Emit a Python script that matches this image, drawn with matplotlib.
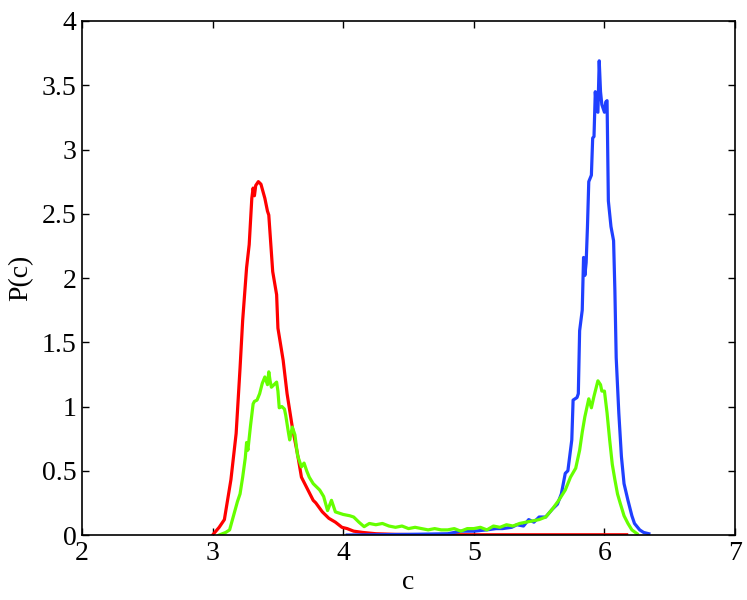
import matplotlib
matplotlib.use("Agg")
import matplotlib.pyplot as plt

red_x = [3.00, 3.05, 3.09, 3.14, 3.18, 3.21, 3.23, 3.26, 3.28, 3.30, 3.31, 3.32, 3.33, 3.35,
         3.37, 3.40, 3.42, 3.43, 3.46, 3.49, 3.50, 3.54, 3.57, 3.61, 3.65, 3.68, 3.73, 3.77,
         3.79, 3.84, 3.89, 3.94, 3.99, 4.03, 4.08, 4.15, 4.25, 4.40, 4.60, 5.00, 5.50, 6.00, 6.17]
red_y = [0.00, 0.06, 0.12, 0.43, 0.79, 1.30, 1.67, 2.08, 2.26, 2.62, 2.70, 2.64, 2.72, 2.75,
         2.73, 2.62, 2.52, 2.49, 2.05, 1.87, 1.61, 1.36, 1.10, 0.84, 0.63, 0.45, 0.35, 0.27,
         0.25, 0.18, 0.13, 0.10, 0.06, 0.05, 0.03, 0.02, 0.01, 0.005, 0.003, 0.002, 0.002, 0.002, 0.002]

green_x = [3.05, 3.10, 3.13, 3.16, 3.19, 3.21, 3.23, 3.25, 3.26, 3.27, 3.29, 3.31, 3.32, 3.34,
           3.36, 3.38, 3.40, 3.42, 3.43, 3.44, 3.45, 3.47, 3.49, 3.50, 3.51, 3.53, 3.55, 3.56,
           3.58, 3.59, 3.61, 3.63, 3.65, 3.68, 3.70, 3.72, 3.74, 3.77, 3.79, 3.82, 3.85, 3.88,
           3.91, 3.94, 3.97, 4.00, 4.05, 4.08, 4.12, 4.16, 4.20, 4.25, 4.30, 4.35, 4.40, 4.45,
           4.50, 4.55, 4.60, 4.65, 4.70, 4.75, 4.80, 4.85, 4.90, 4.95, 5.00, 5.05, 5.10, 5.15,
           5.20, 5.25, 5.30, 5.35, 5.40, 5.45, 5.50, 5.55, 5.60, 5.65, 5.70, 5.74, 5.78, 5.81,
           5.83, 5.85, 5.88, 5.90, 5.92, 5.95, 5.97, 5.98, 6.00, 6.02, 6.04, 6.06, 6.08, 6.10,
           6.12, 6.15, 6.18, 6.21, 6.25]
green_y = [0.00, 0.02, 0.04, 0.15, 0.26, 0.32, 0.45, 0.60, 0.72, 0.66, 0.85, 1.02, 1.04, 1.05,
           1.10, 1.18, 1.23, 1.17, 1.27, 1.20, 1.15, 1.17, 1.19, 1.12, 0.99, 1.00, 0.98, 0.93,
           0.80, 0.74, 0.84, 0.78, 0.62, 0.53, 0.56, 0.50, 0.45, 0.40, 0.38, 0.35, 0.30, 0.19,
           0.27, 0.18, 0.17, 0.16, 0.15, 0.14, 0.10, 0.065, 0.09, 0.08, 0.09, 0.07, 0.06, 0.07,
           0.05, 0.06, 0.05, 0.04, 0.05, 0.04, 0.04, 0.05, 0.03, 0.05, 0.05, 0.06, 0.04, 0.07,
           0.06, 0.08, 0.07, 0.09, 0.10, 0.11, 0.12, 0.14, 0.20, 0.27, 0.35, 0.45, 0.52, 0.66,
           0.80, 0.92, 1.06, 0.99, 1.08, 1.20, 1.17, 1.12, 1.12, 0.95, 0.74, 0.55, 0.43, 0.32,
           0.25, 0.15, 0.09, 0.04, 0.01]

blue_x = [4.03, 4.50, 4.80, 4.90, 5.00, 5.10, 5.17, 5.22, 5.29, 5.33, 5.38, 5.42, 5.46, 5.50,
          5.55, 5.60, 5.64, 5.67, 5.70, 5.72, 5.75, 5.76, 5.79, 5.80, 5.81, 5.83, 5.84, 5.85,
          5.86, 5.87, 5.88, 5.90, 5.91, 5.92, 5.93, 5.94, 5.95, 5.96, 5.97, 5.98, 6.00, 6.01,
          6.02, 6.03, 6.05, 6.07, 6.08, 6.09, 6.11, 6.13, 6.15, 6.18, 6.21, 6.23, 6.27, 6.30, 6.34]
blue_y = [0.00, 0.005, 0.01, 0.03, 0.03, 0.04, 0.05, 0.05, 0.06, 0.08, 0.07, 0.12, 0.10, 0.14,
          0.14, 0.20, 0.24, 0.32, 0.48, 0.50, 0.74, 1.05, 1.07, 1.10, 1.59, 1.75, 2.16, 2.02,
          2.12, 2.40, 2.75, 2.80, 3.09, 3.10, 3.45, 3.30, 3.29, 3.69, 3.45, 3.35, 3.29, 3.37,
          3.38, 2.60, 2.40, 2.29, 1.90, 1.38, 0.95, 0.61, 0.40, 0.27, 0.15, 0.09, 0.04, 0.02, 0.01]

x_ticks = [2, 3, 4, 5, 6, 7]
y_ticks = [0, 0.5, 1, 1.5, 2, 2.5, 3, 3.5, 4]
y_ticklabels = ["0", "0.5", "1", "1.5", "2", "2.5", "3", "3.5", "4"]

plt.rcParams['font.family'] = ['Liberation Serif', 'DejaVu Serif']

fig = plt.figure(figsize=(7.47, 6.0), dpi=100)
ax = fig.add_axes([0.1098, 0.1083, 0.984 - 0.1098, 0.965 - 0.1083])

lw = 2.3
ax.plot(red_x, red_y, color='#ff0000', lw=lw)
ax.plot(blue_x, blue_y, color='#2040ff', lw=lw)
ax.plot(green_x, green_y, color='#66ff00', lw=lw)

ax.set_xlim(2, 7)
ax.set_ylim(0, 4)
ax.set_xticks(x_ticks)
ax.set_xticklabels([str(t) for t in x_ticks])
ax.set_yticks(y_ticks)
ax.set_yticklabels(y_ticklabels)
ax.tick_params(direction='in', top=True, right=True, length=5, width=1,
               labelsize=20, pad=4)
for s in ax.spines.values():
    s.set_linewidth(1.2)
ax.set_xlabel('c', fontsize=20, labelpad=3)
ax.set_ylabel('P(c)', fontsize=20, labelpad=6)

fig.savefig('out.png', dpi=100)
